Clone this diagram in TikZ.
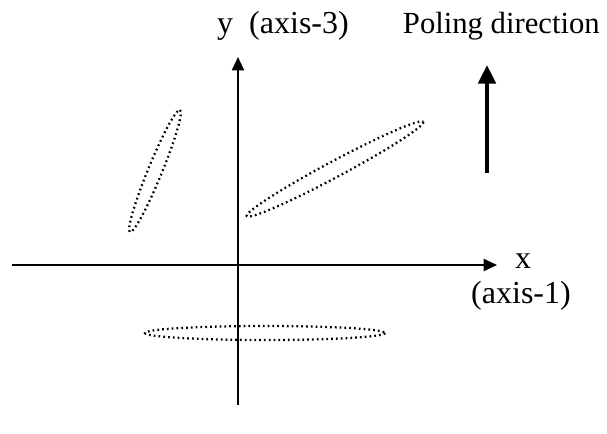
\documentclass[tikz,border=0pt]{standalone}
\usepackage{fontspec}
\setmainfont{Liberation Serif}
\usetikzlibrary{arrows.meta}

\begin{document}
\begin{tikzpicture}[x=0.75pt,y=-0.75pt,
  axis/.style={line width=1.5pt,-{Triangle[length=10pt,width=9pt]}},
  pol/.style={line width=3pt,-{Triangle[length=14pt,width=13pt]}},
  grain/.style={line width=1.7pt,dash pattern=on 1.3pt off 2.3pt},
  lab/.style={font=\fontsize{24}{28}\selectfont,inner sep=0pt}]
\useasboundingbox (0,0) rectangle (607,433);
% axes
\coordinate (xl) at (12,265);
\coordinate (xr) at (497,265);
\coordinate (yb) at (238,405);
\coordinate (yt) at (238,57);
\draw[axis] (xl) -- (xr);
\draw[axis] (yb) -- (yt);
\node[lab] (ylab) at (283,26) {y\ \ (axis-3)};
\node[lab] (xlab) at (523,261) {x};
\node[lab] (xlab2) at (521,296) {(axis-1)};
% poling arrow
\coordinate (pb) at (487,173);
\coordinate (pt) at (487,65);
\draw[pol] (pb) -- (pt);
\node[lab,anchor=east,font=\fontsize{23}{27}\selectfont] (poltxt) at (600,26) {Poling direction};
% grains
\coordinate (e1) at (155,171);
\coordinate (e2) at (335,169);
\coordinate (e3) at (265,333);
\draw[grain,rotate around={67.7:(e1)}] (e1) ellipse [x radius=66,y radius=7];
\draw[grain,rotate around={28.1:(e2)}] (e2) ellipse [x radius=100,y radius=8];
\draw[grain] (e3) ellipse [x radius=120,y radius=7];
\end{tikzpicture}
\end{document}
